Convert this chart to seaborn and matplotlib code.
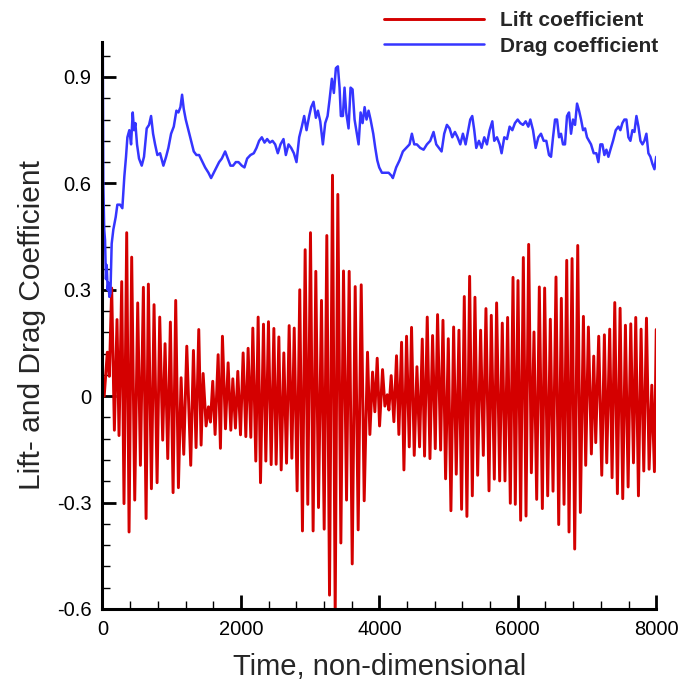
# Lift and drag coefficient time history
import pandas as pd
import matplotlib.pyplot as plt
from matplotlib.ticker import MultipleLocator, FuncFormatter
import seaborn as sns

# Lift coefficient: successive extrema
lift_time = [
    25, 70, 99, 133, 172, 210, 239, 278, 311, 350,
    384, 422, 466, 509, 548, 591, 630, 663, 707, 745,
    789, 827, 870, 904, 943, 981, 1020, 1058, 1097, 1136,
    1174, 1218, 1275, 1314, 1352, 1391, 1425, 1454, 1497, 1531,
    1560, 1593, 1627, 1671, 1704, 1733, 1777, 1815, 1854, 1883,
    1921, 1955, 1994, 2032, 2071, 2104, 2143, 2172, 2215, 2249,
    2283, 2326, 2360, 2398, 2437, 2476, 2509, 2548, 2582, 2620,
    2659, 2697, 2736, 2770,
    2812, 2850, 2889, 2928, 2966, 3005, 3043, 3082, 3121, 3164,
    3203, 3241, 3280, 3323, 3362, 3400, 3444, 3482, 3526, 3564,
    3608, 3651, 3694, 3738, 3781, 3829, 3863, 3902, 3935, 3969,
    4003, 4046, 4080, 4114, 4138, 4171, 4210, 4248, 4282, 4321,
    4355, 4393, 4432, 4465, 4504, 4543, 4581, 4620, 4653, 4692,
    4731, 4769, 4808, 4841, 4885, 4919, 4957, 4996, 5034, 5073,
    5111, 5150, 5188,
    5227, 5265, 5304, 5343, 5381, 5420, 5463, 5502, 5540, 5584,
    5617, 5661, 5694, 5738, 5776, 5815, 5853, 5892, 5931, 5964,
    6003, 6041, 6080, 6119, 6157, 6196, 6234, 6273, 6311, 6355,
    6388, 6432, 6470, 6509, 6552, 6591, 6629, 6668, 6707, 6740,
    6784, 6822, 6866, 6904, 6948, 6981, 7020, 7063, 7097, 7126,
    7169, 7213, 7251, 7285, 7328, 7362, 7401, 7439, 7478, 7516,
    7555, 7594, 7632, 7671, 7704, 7743, 7781, 7820, 7859, 7897,
    7936, 7974, 8000,
]
lift_value = [
    0.00, 0.124, 0.056, 0.305, -0.096, 0.216, -0.111, 0.323, -0.303, 0.461,
    -0.383, 0.392, -0.293, 0.263, -0.195, 0.307, -0.345, 0.316, -0.261, 0.258,
    -0.244, 0.223, -0.124, 0.148, -0.176, 0.209, -0.272, 0.270, -0.258, 0.052,
    -0.164, 0.141, -0.195, 0.129, -0.145, 0.188, -0.138, 0.064, -0.084, -0.030,
    -0.073, 0.042, -0.108, 0.117, -0.147, 0.169, -0.092, 0.094, -0.096, 0.049,
    -0.090, 0.070, -0.109, 0.122, -0.114, 0.135, -0.116, 0.192, -0.183, 0.223,
    -0.244, 0.203, -0.183, 0.210, -0.193, 0.191, -0.192, 0.167, -0.208, 0.122,
    -0.189, 0.199, -0.175, 0.192,
    -0.267, 0.300, -0.380, 0.413, -0.305, 0.461, -0.380, 0.352, -0.314, 0.270,
    -0.375, 0.453, -0.561, 0.623, -0.620, 0.569, -0.414, 0.353, -0.293, 0.352,
    -0.473, 0.309, -0.377, 0.314, -0.295, 0.124, -0.108, 0.068, -0.044, 0.107,
    -0.084, 0.075, -0.028, 0.004, -0.039, 0.058, -0.072, 0.114, -0.108, 0.152,
    -0.208, 0.169, -0.143, 0.194, -0.167, 0.083, -0.143, 0.161, -0.169, 0.223,
    -0.176, 0.171, -0.148, 0.230, -0.152, 0.214, -0.233, 0.162, -0.323, 0.195,
    -0.220, 0.186, -0.319,
    0.281, -0.339, 0.338, -0.281, 0.279, -0.223, 0.186, -0.167, 0.247, -0.267,
    0.228, -0.234, 0.263, -0.239, 0.206, -0.239, 0.222, -0.302, 0.335, -0.305,
    0.326, -0.350, 0.391, -0.338, 0.428, -0.216, 0.181, -0.291, 0.308, -0.317,
    0.305, -0.281, 0.217, -0.268, 0.336, -0.362, 0.276, -0.305, 0.383, -0.383,
    0.388, -0.431, 0.425, -0.328, 0.225, -0.195, 0.195, -0.163, 0.113, -0.131,
    0.169, -0.223, 0.173, -0.188, 0.189, -0.230, 0.264, -0.275, 0.248, -0.289,
    0.200, -0.256, 0.204, -0.188, 0.222, -0.281, 0.189, -0.211, 0.220, -0.206,
    0.031, -0.213, 0.188,
]

# Drag coefficient samples
drag_time = [
    0, 4, 12, 25, 37, 50, 61, 75, 85, 100,
    115, 133, 157, 191, 215, 254, 287, 316, 340, 360,
    388, 413, 437, 456, 475, 499, 528, 567, 600, 639,
    673, 702, 731, 760, 793, 832, 880, 919, 952, 991,
    1030, 1068, 1097, 1126, 1150, 1174, 1203, 1242, 1280, 1319,
    1357, 1396, 1434, 1483, 1531, 1569, 1608, 1646, 1685, 1724,
    1772, 1810, 1849, 1887, 1926, 1965, 2013, 2051, 2090, 2138,
    2186, 2225, 2263, 2302, 2341, 2379, 2418, 2456, 2495, 2533,
    2572, 2615, 2649, 2688, 2726, 2765, 2803, 2842, 2880, 2914,
    2948, 2986, 3015, 3049, 3083, 3112, 3146, 3184, 3218, 3252,
    3280, 3314, 3343, 3372, 3401, 3425, 3444, 3473, 3497, 3521,
    3555, 3584, 3613, 3642, 3671, 3700, 3729, 3758, 3787, 3815,
    3844, 3873, 3912, 3941, 3970, 3998, 4037, 4085, 4134, 4182,
    4195, 4243, 4292, 4340, 4388, 4436, 4470, 4504, 4542, 4590,
    4639, 4687, 4735, 4783, 4822, 4860, 4899, 4937, 4976, 5015,
    5053, 5092, 5130, 5169, 5207, 5246, 5285, 5313, 5342, 5371,
    5400, 5439, 5477, 5516, 5554, 5593, 5632, 5660, 5699, 5738,
    5766, 5805, 5844, 5882, 5921, 5959, 5998, 6036, 6075, 6114,
    6152, 6181, 6220, 6258, 6297, 6335, 6374, 6412, 6451, 6480,
    6509, 6538, 6567, 6596, 6624, 6653, 6682, 6711, 6740, 6769,
    6798, 6827, 6856, 6885, 6914, 6943, 6972, 7000, 7029, 7058,
    7097, 7135, 7164, 7193, 7222, 7251, 7280, 7309, 7338, 7376,
    7415, 7453, 7482, 7511, 7540, 7569, 7598, 7627, 7656, 7685,
    7714, 7743, 7772, 7801, 7829, 7858, 7887, 7916, 7945, 7974,
    8000,
]
drag_value = [
    -0.28, 1.00, 0.60, 0.47, 0.44, 0.33, 0.37, 0.30, 0.32, 0.28,
    0.29, 0.43, 0.47, 0.505, 0.54, 0.54, 0.53, 0.62, 0.675, 0.73,
    0.75, 0.71, 0.80, 0.75, 0.77, 0.71, 0.67, 0.65, 0.675, 0.755,
    0.765, 0.79, 0.74, 0.71, 0.68, 0.685, 0.65, 0.675, 0.70, 0.74,
    0.76, 0.805, 0.80, 0.815, 0.85, 0.81, 0.78, 0.75, 0.72, 0.69,
    0.68, 0.68, 0.665, 0.645, 0.63, 0.615, 0.63, 0.645, 0.66, 0.67,
    0.69, 0.67, 0.65, 0.65, 0.66, 0.66, 0.65, 0.645, 0.67, 0.68,
    0.685, 0.70, 0.72, 0.73, 0.715, 0.725, 0.715, 0.72, 0.71, 0.685,
    0.71, 0.725, 0.68, 0.71, 0.70, 0.685, 0.66, 0.73, 0.76, 0.79,
    0.75, 0.79, 0.815, 0.83, 0.785, 0.805, 0.775, 0.71, 0.77, 0.79,
    0.835, 0.895, 0.855, 0.925, 0.93, 0.87, 0.79, 0.79, 0.87, 0.80,
    0.755, 0.87, 0.865, 0.78, 0.745, 0.71, 0.80, 0.77, 0.815, 0.78,
    0.805, 0.78, 0.74, 0.70, 0.665, 0.645, 0.63, 0.63, 0.63, 0.62,
    0.615, 0.645, 0.665, 0.69, 0.70, 0.71, 0.74, 0.71, 0.71, 0.70,
    0.695, 0.71, 0.72, 0.745, 0.71, 0.70, 0.69, 0.74, 0.765, 0.755,
    0.73, 0.745, 0.73, 0.71, 0.74, 0.71, 0.75, 0.78, 0.79, 0.75,
    0.70, 0.72, 0.70, 0.73, 0.71, 0.75, 0.775, 0.72, 0.73, 0.71,
    0.685, 0.73, 0.725, 0.76, 0.75, 0.77, 0.78, 0.77, 0.765, 0.775,
    0.76, 0.78, 0.75, 0.70, 0.73, 0.74, 0.72, 0.72, 0.68, 0.675,
    0.73, 0.78, 0.78, 0.73, 0.74, 0.71, 0.71, 0.79, 0.80, 0.74,
    0.78, 0.765, 0.825, 0.805, 0.78, 0.75, 0.755, 0.73, 0.72, 0.71,
    0.685, 0.685, 0.66, 0.71, 0.71, 0.68, 0.695, 0.675, 0.695, 0.72,
    0.75, 0.76, 0.75, 0.77, 0.78, 0.78, 0.73, 0.72, 0.75, 0.745,
    0.79, 0.76, 0.72, 0.71, 0.72, 0.74, 0.685, 0.675, 0.655, 0.64,
    0.675,
]

y_ticks = [-0.6, -0.3, 0, 0.3, 0.6, 0.9]
x_ticks = [0, 2000, 4000, 6000, 8000]

sns.set_style("ticks")
plt.rcParams['font.family'] = ['Liberation Sans', 'DejaVu Sans']
plt.rcParams['axes.unicode_minus'] = False

lift_df = pd.DataFrame({"time": lift_time, "value": lift_value})
drag_df = pd.DataFrame({"time": drag_time, "value": drag_value})

fig = plt.figure(figsize=(6.85, 6.83), dpi=100)
ax = fig.add_axes([0.1496, 0.1084, 0.8084, 0.8308])

sns.lineplot(data=lift_df, x="time", y="value", ax=ax, color="#d40000",
             lw=2.1, estimator=None, sort=False, label="Lift coefficient")
sns.lineplot(data=drag_df, x="time", y="value", ax=ax, color="#3535ff",
             lw=1.8, estimator=None, sort=False, label="Drag coefficient")

ax.set_xlim(0, 8000)
ax.set_ylim(-0.6, 1.0)
ax.set_xticks(x_ticks)
ax.set_yticks(y_ticks)
ax.xaxis.set_minor_locator(MultipleLocator(400))
ax.yaxis.set_minor_locator(MultipleLocator(0.06))
ax.yaxis.set_major_formatter(FuncFormatter(lambda v, p: f"{round(v, 2):g}"))

for s in ["top", "right"]:
    ax.spines[s].set_visible(False)
for s in ["left", "bottom"]:
    ax.spines[s].set_linewidth(2.2)
    ax.spines[s].set_color("black")

ax.tick_params(which="major", direction="in", length=10, width=2,
               labelsize=14.5, pad=8, colors="black")
ax.tick_params(which="minor", direction="in", length=6, width=1, colors="black")

ax.set_xlabel("Time, non-dimensional", fontsize=21, labelpad=10)
ax.set_ylabel("Lift- and Drag Coefficient", fontsize=21.5, labelpad=8)

ax.legend(loc="upper left", bbox_to_anchor=(384 / 685, 0.984),
          bbox_transform=fig.transFigure, frameon=False,
          prop={"size": 15, "weight": "bold"}, handlelength=4.8,
          handletextpad=0.75, labelspacing=0.32, borderpad=0, borderaxespad=0)

fig.savefig("out.png", dpi=100)
